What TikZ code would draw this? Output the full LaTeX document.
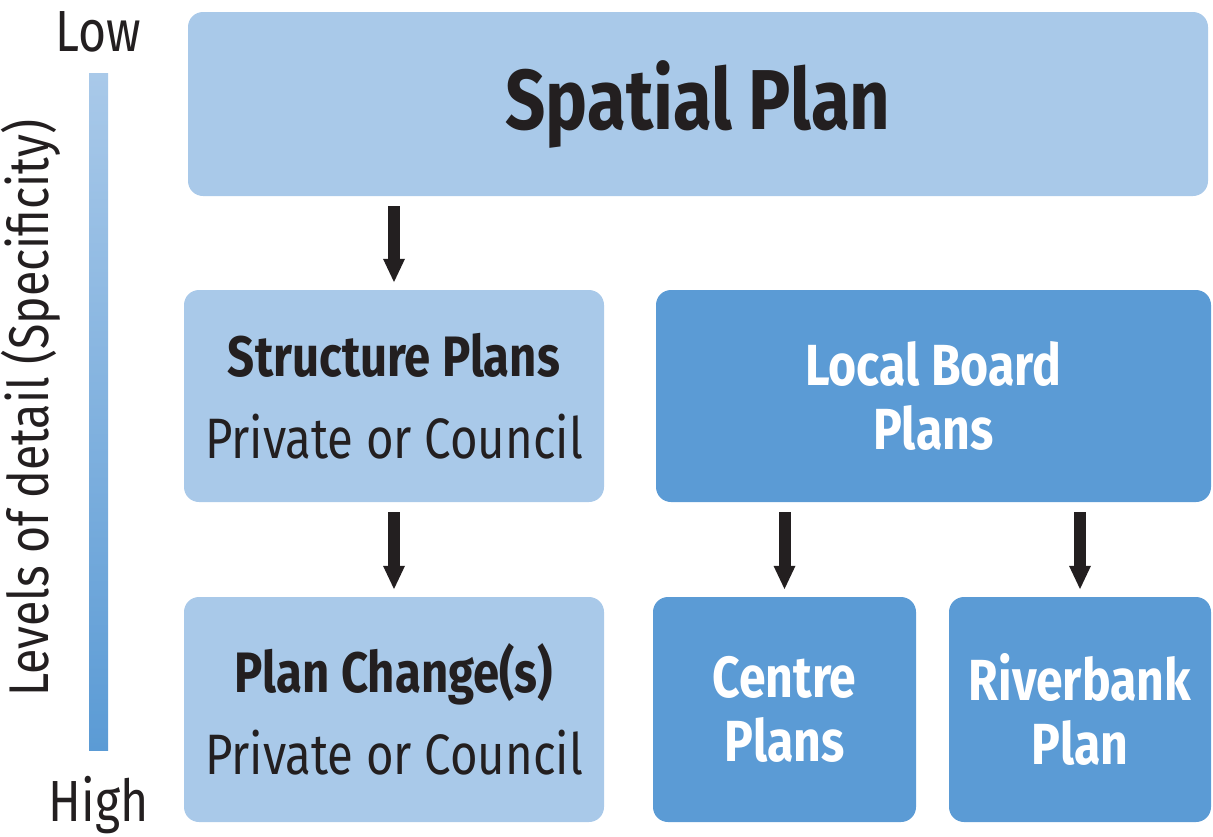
\documentclass[tikz,border=0pt]{standalone}
\usepackage{fontspec}
\setmainfont[FakeStretch=0.83]{Fira Sans}
\usetikzlibrary{arrows.meta,positioning}
\definecolor{planlight}{HTML}{A9C9E9}
\definecolor{plandark}{HTML}{5B9BD5}
\definecolor{ink}{HTML}{231F20}
\tikzset{
  plan/.style={rounded corners=15pt,inner sep=0pt,align=center,text=ink,font=\fontsize{57}{82}\selectfont},
  lightplan/.style={plan,fill=planlight},
  darkplan/.style={plan,fill=plandark,text=white,font=\fontsize{58}{64}\selectfont\bfseries},
  down/.style={-{Triangle[width=20pt,length=24pt]},line width=12pt,ink,shorten <=10pt,shorten >=7pt}
}
\begin{document}
\begin{tikzpicture}[x=1pt,y=-1pt]
	\useasboundingbox (0,0) rectangle (1213,836);
	% boxes
	\node[lightplan,minimum width=1020pt,minimum height=184pt,font=\fontsize{85}{90}\selectfont\bfseries] (spatial) at (698,104) {Spatial Plan};
	\node[lightplan,minimum width=420pt,minimum height=212pt] (structure) at (394,396) {{\bfseries Structure Plans}\\Private or Council};
	\node[darkplan,minimum width=555pt,minimum height=212pt] (board) at (933.5,396) {Local Board\\Plans};
	\node[lightplan,minimum width=420pt,minimum height=225pt] (change) at (394,709.5) {{\bfseries Plan Change(s)}\\Private or Council};
	\node[darkplan,minimum width=263pt,minimum height=225pt] (centre) at (784.5,709.5) {Centre\\Plans};
	\node[darkplan,minimum width=262pt,minimum height=225pt] (river) at (1080,709.5) {Riverbank\\Plan};
	% arrows
	\draw[down] (spatial.south -| structure.north) -- (structure.north);
	\draw[down] (structure) -- (change);
	\draw[down] (board.south -| centre.north) -- (centre.north);
	\draw[down] (board.south -| river.north) -- (river.north);
	% level of detail bar
	\node[minimum width=19pt,minimum height=677pt,inner sep=0pt,top color=planlight,bottom color=plandark] (bar) at (98.5,411.5) {};
	\node[above=20pt of bar,text=ink,font=\fontsize{58}{60}\selectfont,inner sep=0pt] (low) {Low};
	\node[below=26pt of bar,text=ink,font=\fontsize{58}{60}\selectfont,inner sep=0pt] (high) {High};
	\node[rotate=90,text=ink,font=\fontsize{56}{60}\selectfont] (levels) at (31,408) {Levels of detail (Specificity)};
\end{tikzpicture}
\end{document}
